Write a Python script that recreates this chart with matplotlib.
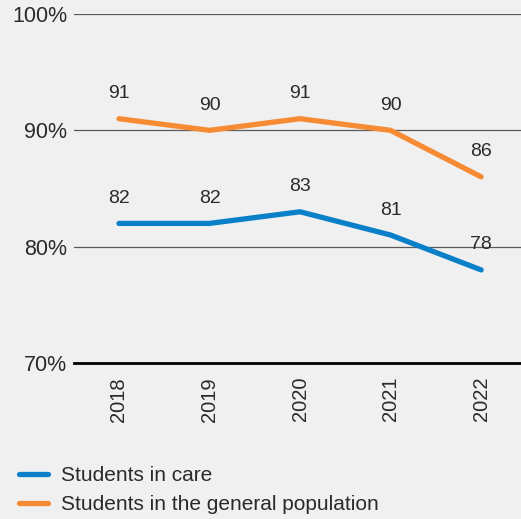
import matplotlib.pyplot as plt

plt.rcParams['font.family'] = ['Liberation Sans', 'DejaVu Sans']

years = ['2018', '2019', '2020', '2021', '2022']
in_care = [82, 82, 83, 81, 78]
general = [91, 90, 91, 90, 86]
yticks = [70, 80, 90, 100]

bg = '#f0f0f0'
blue = '#0a80c8'
orange = '#f68b33'
txt = '#2a2a2a'

fig = plt.figure(figsize=(5.21, 5.19), dpi=100, facecolor=bg)
ax = fig.add_axes([0.142, 0.3006, 0.858, 0.6724])
ax.set_facecolor(bg)

x = range(len(years))
ax.plot(x, in_care, color=blue, lw=3.8, solid_capstyle='round', label='Students in care', zorder=3)
ax.plot(x, general, color=orange, lw=3.8, solid_capstyle='round',
        label='Students in the general population', zorder=3)

# value labels above each point
for series in (in_care, general):
    for xi, v in zip(x, series):
        ax.annotate(str(v), (xi, v), xytext=(0, 18), textcoords='offset points',
                    ha='center', va='center', fontsize=14, color=txt)

ax.set_ylim(70, 100)
ax.set_xlim(-0.497, 4.44)
ax.set_yticks(yticks)
ax.set_yticklabels([f'{t}%' for t in yticks], fontsize=15.5, color=txt)
ax.set_xticks(list(x))
ax.set_xticklabels(years, rotation=90, fontsize=14.5, color=txt)
ax.tick_params(length=0)
ax.tick_params(axis='y', pad=5)
ax.tick_params(axis='x', pad=10)

for t in yticks[1:]:
    ax.axhline(t, color='#5a5a5a', lw=0.9, zorder=1)
ax.axhline(70, color='black', lw=2, zorder=2, clip_on=False)

for s in ax.spines.values():
    s.set_visible(False)

fig.legend(loc='upper left', bbox_to_anchor=(0.02, 0.118), frameon=False,
           fontsize=15, handlelength=1.4, handletextpad=0.65, labelspacing=0.48,
           borderaxespad=0, labelcolor=txt)

fig.savefig('out.png', dpi=100, facecolor=bg)
